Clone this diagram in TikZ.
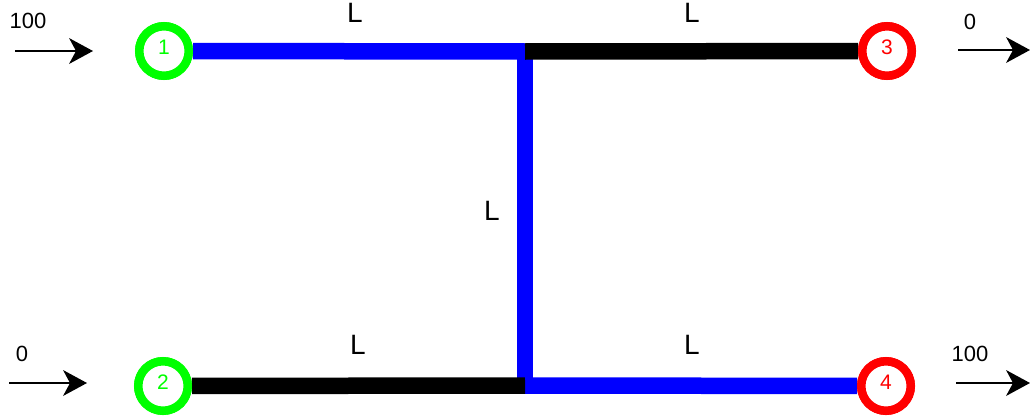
\documentclass[tikz,border=0pt]{standalone}
\usepackage{fontspec}
\setmainfont{Liberation Sans}
\usetikzlibrary{arrows.meta}
\definecolor{pgreen}{RGB}{0,255,0}
\definecolor{pred}{RGB}{255,0,0}
\definecolor{pblue}{RGB}{0,0,255}
\tikzset{
  port/.style={circle, draw=#1, text=#1, line width=8.5pt, fill=white,
    minimum size=49.5pt, inner sep=0pt, font=\fontsize{21}{21}\selectfont,
    text height=0.716em, text depth=0pt},
  blueline/.style={draw=pblue, line width=16.5pt, line cap=butt},
  blackline/.style={draw=black, line width=16.5pt, line cap=butt},
  lenlabel/.style={inner sep=0pt, font=\fontsize{28}{28}\selectfont, text height=0.716em, text depth=0pt},
  vallabel/.style={inner sep=0pt, font=\fontsize{22}{22}\selectfont, text height=0.716em, text depth=0pt},
  flow/.style={draw=black, line width=2.4pt, -{Stealth[length=24pt, width=26pt, inset=7pt, line width=0pt]}}
}
\begin{document}
\begin{tikzpicture}[x=1pt, y=-1pt]
\useasboundingbox (0,0) rectangle (1030,415);
% ports
\node[port=pgreen] (n1) at (164,51) {1};
\node[port=pgreen] (n2) at (163,386) {2};
\node[port=pred] (n3) at (887,51) {3};
\node[port=pred] (n4) at (886,386) {4};
% junctions
\coordinate (jt) at (525,51.5);
\coordinate (jb) at (525,385.5);
% lines
\draw[blueline] (n1) -- (jt);
\draw[blueline] (jt) -- (jb);
\draw[blueline] (jb) -- (n4);
\draw[blackline] (jt) -- (n3);
\draw[blackline] (n2) -- (jb);
% redraw ports on top
\node[port=pgreen] at (n1.center) {1};
\node[port=pgreen] at (n2.center) {2};
\node[port=pred] at (n3.center) {3};
\node[port=pred] at (n4.center) {4};
% length labels
\node[lenlabel] (l1) at (355,18.5) {L};
\node[lenlabel] (l2) at (692,18.5) {L};
\node[lenlabel] (l3) at (492,217) {L};
\node[lenlabel] (l4) at (358,350.5) {L};
\node[lenlabel] (l5) at (692,350.5) {L};
% flow arrows
\coordinate (a1s) at (15,51);  \coordinate (a1e) at (93,51);
\coordinate (a2s) at (9,383);  \coordinate (a2e) at (87,383);
\coordinate (a3s) at (958,50); \coordinate (a3e) at (1030,50);
\coordinate (a4s) at (956,383); \coordinate (a4e) at (1030,383);
\draw[flow] (a1s) -- (a1e);
\draw[flow] (a2s) -- (a2e);
\draw[flow] (a3s) -- (a3e);
\draw[flow] (a4s) -- (a4e);
% values
\node[vallabel] (v1) at (28,25) {100};
\node[vallabel] (v2) at (22,357.5) {0};
\node[vallabel] (v3) at (970,25.5) {0};
\node[vallabel] (v4) at (970,357.5) {100};
\end{tikzpicture}
\end{document}
